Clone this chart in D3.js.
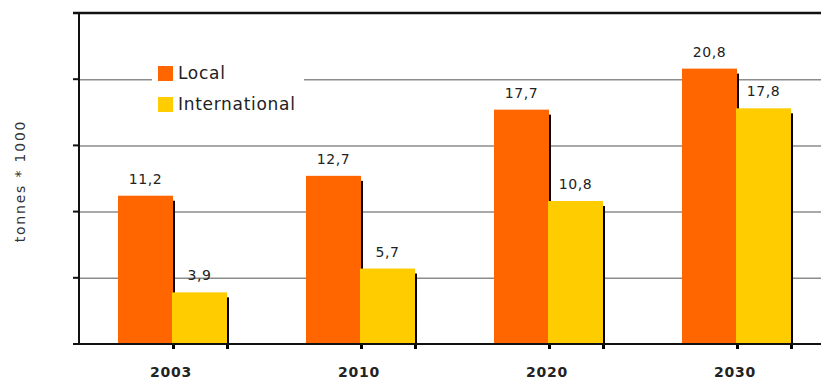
<!DOCTYPE html>
<html>
<head>
<meta charset="utf-8">
<script src="https://cdn.jsdelivr.net/npm/d3@7"></script>
<style>
  body { margin: 0; background: #fff; }
  svg { display: block; font-family: "DejaVu Sans", Verdana, sans-serif; }
  .grid line { stroke: #8c8c8c; stroke-width: 1.5; }
  .grid .domain { display: none; }
</style>
</head>
<body>
<div id="chart"></div>
<script>
const years = ['2003', '2010', '2020', '2030'];
const localValues = [11.2, 12.7, 17.7, 20.8];
const internationalValues = [3.9, 5.7, 10.8, 17.8];
const seriesNames = ['Local', 'International'];
const seriesColors = ['#ff6600', '#ffcc00'];
const yTicks = [0, 5, 10, 15, 20, 25];

const width = 821, height = 381;
const margin = {top: 13, right: -10, bottom: 37, left: 79};

const svg = d3.select('#chart').append('svg')
  .attr('width', width)
  .attr('height', height);

const x = d3.scaleBand()
  .domain(years)
  .range([margin.left, width - margin.right]);

const y = d3.scaleLinear()
  .domain([0, 25])
  .range([height - margin.bottom, margin.top]);

const barW = 55;

// gridlines
svg.append('g')
  .attr('class', 'grid')
  .attr('transform', 'translate(' + margin.left + ',0)')
  .call(d3.axisRight(y).tickValues(yTicks.slice(1, -1)).tickSize(width).tickFormat(''));

// legend box hides part of the grid
const legend = svg.append('g');
legend.append('rect')
  .attr('x', 152).attr('y', 55).attr('width', 152).attr('height', 62)
  .attr('fill', '#fff');

// grouped data
const data = years.map(function(yr, i) {
  return [
    {year: yr, s: 0, v: localValues[i]},
    {year: yr, s: 1, v: internationalValues[i]}
  ];
});

function barX(d) {
  const c = x(d.year) + x.bandwidth() / 2;
  return d.s === 0 ? c - barW : c - 1;
}

const groups = svg.selectAll('.grp').data(data).enter().append('g').attr('class', 'grp');

groups.each(function(g) {
  const sel = d3.select(this);
  g.forEach(function(d) {
    // shadow
    sel.append('rect')
      .attr('x', barX(d) + barW - 1)
      .attr('y', y(d.v) + 5)
      .attr('width', 3)
      .attr('height', y(0) - y(d.v))
      .attr('fill', '#000');
  });
  g.forEach(function(d) {
    sel.append('rect')
      .attr('x', barX(d))
      .attr('y', y(d.v))
      .attr('width', barW)
      .attr('height', y(0) - y(d.v))
      .attr('fill', seriesColors[d.s]);
    sel.append('text')
      .attr('x', barX(d) + barW / 2)
      .attr('y', y(d.v) - 12)
      .attr('text-anchor', 'middle')
      .attr('font-size', 14)
      .attr('letter-spacing', 0.6)
      .attr('fill', '#222')
      .text(d3.format('.1f')(d.v).replace('.', ','));
  });
});

// axes lines
svg.append('line')
  .attr('x1', margin.left).attr('x2', margin.left)
  .attr('y1', margin.top).attr('y2', y(0))
  .attr('stroke', '#111').attr('stroke-width', 2);
svg.append('line')
  .attr('x1', margin.left - 6).attr('x2', width)
  .attr('y1', y(0)).attr('y2', y(0))
  .attr('stroke', '#111').attr('stroke-width', 2);
svg.append('line')
  .attr('x1', margin.left - 6).attr('x2', width)
  .attr('y1', margin.top).attr('y2', margin.top)
  .attr('stroke', '#111').attr('stroke-width', 2.5);

// y ticks
svg.selectAll('.ytick').data(yTicks.slice(1, -1)).enter().append('line')
  .attr('x1', margin.left - 6).attr('x2', margin.left)
  .attr('y1', function(d) { return y(d); }).attr('y2', function(d) { return y(d); })
  .attr('stroke', '#111').attr('stroke-width', 2);

// x labels
svg.selectAll('.xlab').data(years).enter().append('text')
  .attr('x', function(d) { return x(d) + x.bandwidth() / 2 - 2; })
  .attr('y', 377)
  .attr('text-anchor', 'middle')
  .attr('font-size', 14)
  .attr('font-weight', 'bold')
  .attr('letter-spacing', 0.8)
  .attr('fill', '#222')
  .text(function(d) { return d; });

// y title
svg.append('text')
  .attr('transform', 'translate(25,181) rotate(-90)')
  .attr('text-anchor', 'middle')
  .attr('font-size', 14)
  .attr('letter-spacing', 1.8)
  .attr('fill', '#333')
  .text('tonnes * 1000');

// legend entries
seriesNames.forEach(function(n, i) {
  legend.append('rect')
    .attr('x', 158).attr('y', 66 + i * 31)
    .attr('width', 15).attr('height', 15)
    .attr('fill', seriesColors[i]);
  legend.append('text')
    .attr('x', 178).attr('y', 79 + i * 31)
    .attr('font-size', 17)
    .attr('letter-spacing', 0.7)
    .attr('fill', '#222')
    .text(n);
});
</script>
</body>
</html>
